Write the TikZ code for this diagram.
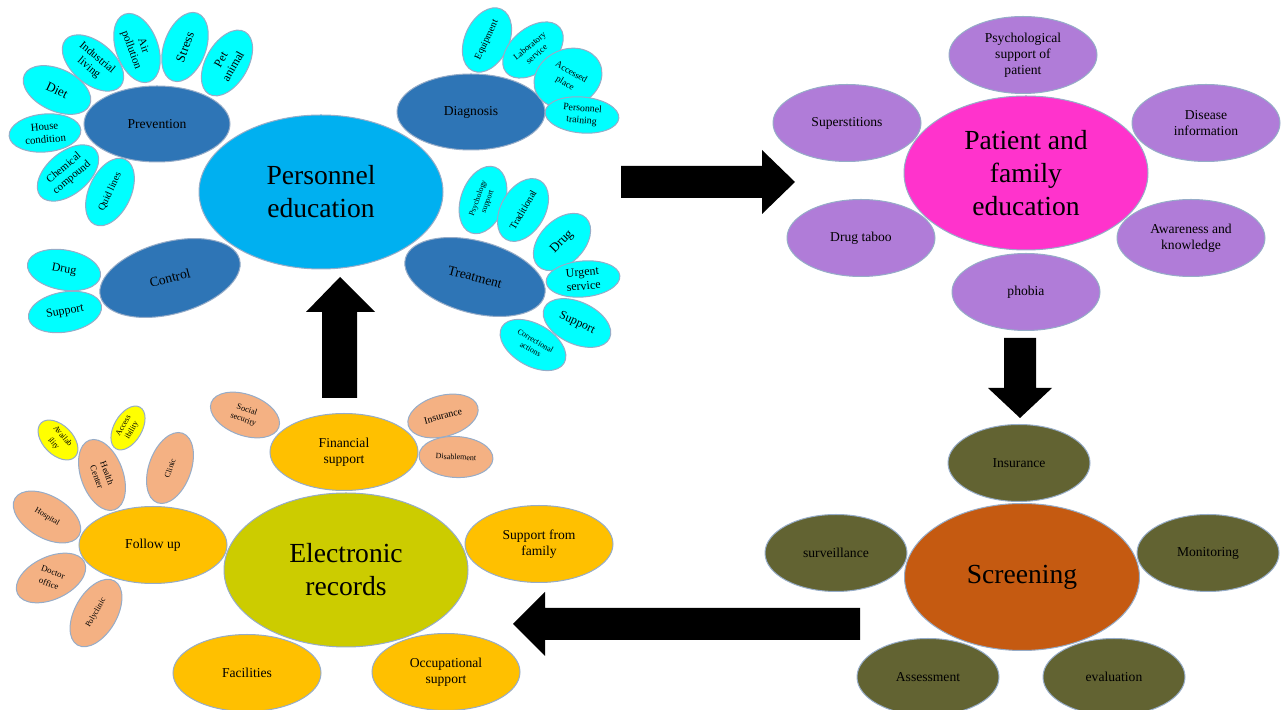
\documentclass[tikz,border=0pt]{standalone}
\usepackage{fontspec}
\setmainfont{Liberation Serif}
\usetikzlibrary{shapes.geometric}
\definecolor{edgec}{RGB}{150,172,200}
\definecolor{cyanl}{RGB}{0,255,255}
\definecolor{dblue}{RGB}{46,117,182}
\definecolor{skyb}{RGB}{0,176,240}
\definecolor{magc}{RGB}{255,51,204}
\definecolor{purc}{RGB}{176,124,216}
\definecolor{olivec}{RGB}{98,99,50}
\definecolor{scrc}{RGB}{197,90,17}
\definecolor{elecc}{RGB}{204,204,0}
\definecolor{orc}{RGB}{255,192,0}
\definecolor{salc}{RGB}{244,177,131}
\definecolor{yelc}{RGB}{255,255,0}
\newcommand\fz[2]{\fontsize{#1}{#2}\selectfont}
\tikzset{
  bub/.style={ellipse, draw=edgec, line width=0.5pt, inner sep=0pt, align=center, text=black},
  big/.style={bub, minimum width=122pt, minimum height=77pt, font=\fz{13.8pt}{16.5pt}},
  mid/.style={bub, fill=dblue, minimum width=73pt, minimum height=38pt, font=\fz{6.8pt}{8pt}},
  leaf/.style={bub, fill=cyanl, minimum width=36pt, minimum height=21pt},
  sat/.style={bub, minimum width=74pt, minimum height=38.5pt, font=\fz{6.8pt}{8pt}},
  pur/.style={sat, fill=purc},
  oli/.style={sat, fill=olivec},
  ora/.style={sat, fill=orc},
  sal/.style={bub, fill=salc, minimum width=36pt, minimum height=20.5pt},
  yel/.style={bub, fill=yelc, minimum width=24pt, minimum height=14pt},
  blk/.style={fill=black}
}
\begin{document}
\begin{tikzpicture}[x=0.5pt,y=-0.5pt]
\useasboundingbox (0,0) rectangle (1282,710);

% ---------- Personnel education cluster ----------
\node[big, fill=skyb] (pers) at (321,192) {Personnel\\education};
\node[mid] (prev) at (157,124) {Prevention};
\node[mid, minimum width=74pt] (diag) at (471,112) {Diagnosis};
\node[mid, minimum width=72pt, minimum height=36pt, rotate=15] (ctrl) at (170,278) {Control};
\node[mid, minimum width=72pt, minimum height=36pt, rotate=-15] (treat) at (475,277) {Treatment};

\node[leaf, rotate=-25, font=\fz{6.5pt}{7.5pt}] (diet) at (57,90) {Diet};
\node[leaf, rotate=-40, font=\fz{5.6pt}{6.4pt}] (indus) at (93,63) {Industrial\\living};
\node[leaf, rotate=-70, font=\fz{5.6pt}{6.4pt}] (air) at (137,48) {Air\\pollution};
\node[leaf, rotate=70, font=\fz{6.5pt}{7.5pt}] (stress) at (185,47) {Stress};
\node[leaf, rotate=60, font=\fz{6pt}{7pt}] (pet) at (227,63) {Pet\\animal};
\node[leaf, rotate=5, minimum height=19pt, font=\fz{5.4pt}{6.4pt}] (house) at (45,133) {House\\condition};
\node[leaf, rotate=40, font=\fz{5.4pt}{6.2pt}] (chem) at (68,173) {Chemical\\compound};
\node[leaf, rotate=65, font=\fz{5pt}{6pt}] (quid) at (110,192) {Quid lines};

\node[leaf, rotate=65, minimum width=34pt, minimum height=22pt, font=\fz{4.9pt}{6pt}] (equip) at (487,40) {Equipment};
\node[leaf, rotate=40, minimum width=35pt, minimum height=22pt, font=\fz{4.4pt}{5.4pt}] (lab) at (533,50) {Laboratory\\service};
\node[leaf, rotate=25, minimum width=35pt, font=\fz{4.6pt}{5.6pt}] (acc) at (568,78) {\rotatebox{-55}{\shortstack{Accessed\\place}}};
\node[leaf, rotate=-5, minimum width=37pt, minimum height=18pt, font=\fz{4.9pt}{6pt}] (ptrain) at (582,115) {Personnel\\training};

\node[leaf, rotate=70, minimum width=35pt, minimum height=22pt, font=\fz{4pt}{5pt}] (psy) at (483,200) {Psychology\\support};
\node[leaf, rotate=60, minimum width=34pt, minimum height=22pt, font=\fz{5pt}{6pt}] (trad) at (523,210) {Traditional};
\node[leaf, rotate=45, minimum width=34pt, minimum height=22pt, font=\fz{6.5pt}{7.5pt}] (tdrug) at (562,242) {Drug};
\node[leaf, rotate=5, minimum width=37pt, minimum height=18pt, font=\fz{6pt}{7pt}] (urg) at (583,279) {Urgent\\service};
\node[leaf, rotate=-25, font=\fz{6pt}{7pt}] (tsup) at (577,323) {Support};
\node[leaf, rotate=-30, font=\fz{4pt}{5pt}] (corr) at (533,345) {Correctional\\actions};

\node[leaf, rotate=-10, minimum width=37pt, minimum height=20pt, font=\fz{6pt}{7pt}] (cdrug) at (64,270) {Drug};
\node[leaf, rotate=10, minimum width=37pt, minimum height=20pt, font=\fz{6pt}{7pt}] (csup) at (65,312) {Support};

% ---------- Patient and family education cluster ----------
\node[big, fill=magc] (pat) at (1026,173) {Patient and\\family\\education};
\node[pur] (psych) at (1023,55) {Psychological\\support of\\patient};
\node[pur] (sup) at (847,123) {Superstitions};
\node[pur] (dis) at (1206,123) {Disease\\information};
\node[pur] (dtab) at (861,238) {Drug taboo};
\node[pur] (aware) at (1191,238) {Awareness and\\knowledge};
\node[pur] (phob) at (1026,292) {phobia};

% ---------- Screening cluster ----------
\node[big, fill=scrc, minimum width=117.5pt, minimum height=73.5pt] (scr) at (1022,577) {Screening};
\node[oli, minimum width=71pt] (ins) at (1019,463) {Insurance};
\node[oli, minimum width=71pt] (surv) at (836,553) {surveillance};
\node[oli, minimum width=71pt] (mon) at (1208,553) {Monitoring};
\node[oli, minimum width=71pt] (assess) at (928,677) {Assessment};
\node[oli, minimum width=71pt] (eval) at (1114,677) {evaluation};

% ---------- Electronic records cluster ----------
\node[big, fill=elecc] (elec) at (346,570) {Electronic\\records};
\node[ora] (sfam) at (539,544) {Support from\\family};
\node[ora] (fac) at (247,673) {Facilities};
\node[ora] (occ) at (446,672) {Occupational\\support};
\node[ora] (fol) at (153,545) {Follow up};
\node[ora] (fin) at (344,452) {Financial\\support};

\node[sal, rotate=-20, font=\fz{4.2pt}{5.2pt}] (soc) at (245,415) {Social\\security};
\node[sal, rotate=15, font=\fz{5pt}{6pt}] (fins) at (443,416) {Insurance};
\node[sal, rotate=-3, minimum width=37pt, font=\fz{4pt}{5pt}] (disab) at (456,457) {Disablement};

\node[yel, rotate=-45, font=\fz{4pt}{4.8pt}] (avail) at (58,440) {\rotatebox{-5}{\shortstack{Availab\\ility}}};
\node[yel, rotate=60, font=\fz{4pt}{4.8pt}] (accb) at (128,428) {Access\\ibility};
\node[sal, rotate=-70, minimum width=37pt, minimum height=21pt, font=\fz{4.5pt}{5.5pt}] (health) at (102,475) {Health\\Center};
\node[sal, rotate=70, minimum width=37pt, minimum height=21pt, font=\fz{4pt}{5pt}] (clinic) at (170,468) {Clinic};
\node[sal, rotate=-30, minimum width=37pt, minimum height=21pt, font=\fz{4pt}{5pt}] (hosp) at (47,517) {Hospital};
\node[sal, rotate=25, minimum width=37pt, minimum height=21pt, font=\fz{4.4pt}{5.4pt}] (doc) at (51,578) {\rotatebox{-45}{\shortstack{Doctor\\office}}};
\node[sal, rotate=60, minimum width=37pt, minimum height=21pt, font=\fz{4pt}{5pt}] (poly) at (96,613) {Polyclinic};

% ---------- Block arrows ----------
\fill[blk] (621,166) -- (762,166) -- (762,150) -- (795,182) -- (762,214) -- (762,198) -- (621,198) -- cycle;
\fill[blk] (1004,338) -- (1036,338) -- (1036,388) -- (1052,388) -- (1020,418) -- (988,388) -- (1004,388) -- cycle;
\fill[blk] (860,608) -- (545,608) -- (545,592) -- (513,624) -- (545,656) -- (545,640) -- (860,640) -- cycle;
\fill[blk] (322,398) -- (322,312) -- (306,312) -- (340,277) -- (375,312) -- (357,312) -- (357,398) -- cycle;
\end{tikzpicture}
\end{document}
